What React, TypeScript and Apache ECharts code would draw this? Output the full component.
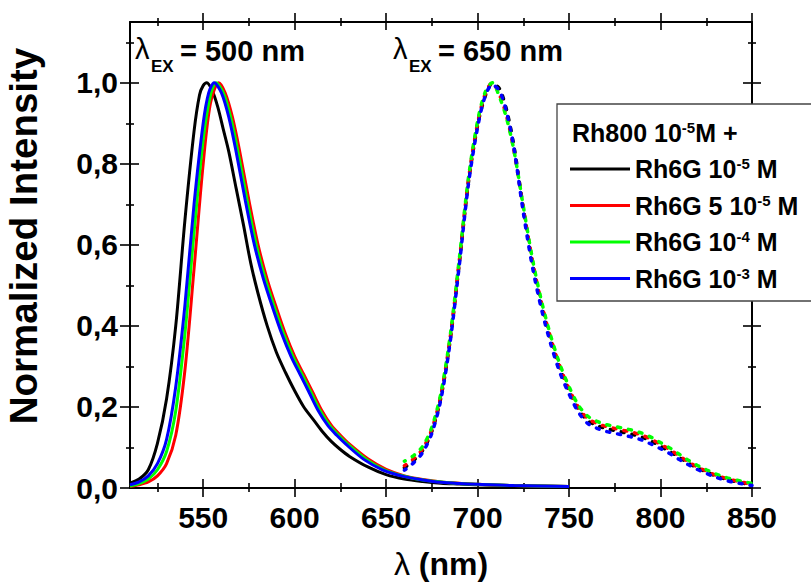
import React, { useEffect, useRef } from "react";
import * as echarts from "echarts";

// ---- Data ----
const SERIES_NAMES = ["Rh6G 10-5 M", "Rh6G 5 10-5 M", "Rh6G 10-4 M", "Rh6G 10-3 M"];
const COLORS = ["#000000", "#ff0000", "#00ff00", "#0000ff"];

// λEX = 500 nm (solid curves)
const BLK_X = [510,515,520,525,530,535,540,545,548,550,552,555,558,561,564,568,572,576,580,585,590,595,600,605,610,615,620,625,630,640,650,660,670,680,690,700,720,750];
const BLK_Y = [0.012,0.022,0.045,0.11,0.22,0.40,0.66,0.88,0.97,0.993,1.0,0.98,0.94,0.885,0.83,0.74,0.65,0.555,0.48,0.40,0.335,0.285,0.24,0.20,0.17,0.14,0.115,0.095,0.078,0.052,0.033,0.022,0.016,0.012,0.01,0.008,0.006,0.004];
const RED_X = [510,515,520,525,530,535,540,545,550,554,558.5,562,566,570,575,580,585,590,595,600,605,610,615,620,625,630,640,650,660,670,680,690,700,720,750];
const RED_Y = [0.004,0.008,0.015,0.03,0.06,0.13,0.29,0.54,0.80,0.95,1.0,0.975,0.915,0.83,0.71,0.60,0.515,0.445,0.38,0.325,0.28,0.235,0.19,0.155,0.13,0.108,0.072,0.046,0.03,0.021,0.015,0.012,0.009,0.006,0.004];
const GRN_X = [510,515,520,525,530,535,540,545,550,554,557,561,565,569,574,579,584,589,594,599,604,609,614,619,624,629,639,649,660,670,680,690,700,720,750];
const GRN_Y = [0.005,0.011,0.022,0.045,0.09,0.19,0.38,0.63,0.86,0.97,1.0,0.975,0.915,0.83,0.71,0.60,0.515,0.445,0.38,0.325,0.28,0.235,0.19,0.155,0.13,0.108,0.071,0.045,0.029,0.02,0.015,0.011,0.009,0.006,0.004];
const BLU_X = [510,515,520,525,530,535,540,545,550,553,556,560,564,568,573,578,583,588,593,598,603,608,613,618,623,628,638,648,660,670,680,690,700,720,750];
const BLU_Y = [0.008,0.015,0.03,0.06,0.12,0.25,0.45,0.70,0.90,0.975,1.0,0.975,0.915,0.83,0.71,0.60,0.515,0.445,0.38,0.325,0.28,0.235,0.19,0.155,0.13,0.108,0.07,0.045,0.028,0.02,0.014,0.011,0.009,0.006,0.004];

// λEX = 650 nm (dashed curves)
const R_X = [660,665,670,675,680,685,690,695,700,704,708,712,716,720,725,730,735,740,745,750,755,760,765,770,775,780,785,790,795,800,805,810,815,820,825,830,835,840,845,850];
const R_BLK = [0.05,0.068,0.093,0.14,0.225,0.365,0.555,0.755,0.895,0.965,0.998,0.985,0.93,0.84,0.69,0.555,0.45,0.365,0.295,0.24,0.195,0.167,0.155,0.147,0.142,0.137,0.132,0.125,0.115,0.103,0.09,0.076,0.062,0.05,0.04,0.03,0.023,0.017,0.012,0.008];
const R_RED = [0.055,0.072,0.097,0.145,0.23,0.37,0.56,0.76,0.90,0.97,1.0,0.97,0.915,0.83,0.69,0.56,0.455,0.37,0.30,0.245,0.20,0.172,0.16,0.152,0.147,0.142,0.137,0.13,0.12,0.108,0.095,0.08,0.065,0.052,0.042,0.032,0.025,0.019,0.014,0.009];
const R_GRN = [0.066,0.08,0.103,0.15,0.235,0.375,0.565,0.765,0.905,0.975,1.0,0.965,0.91,0.83,0.695,0.565,0.46,0.375,0.305,0.25,0.205,0.178,0.165,0.157,0.152,0.147,0.142,0.135,0.125,0.112,0.099,0.084,0.069,0.056,0.045,0.035,0.027,0.021,0.016,0.011];
const R_BLU = [0.044,0.062,0.088,0.135,0.22,0.36,0.55,0.75,0.89,0.965,0.995,0.98,0.925,0.835,0.68,0.545,0.44,0.355,0.285,0.232,0.188,0.16,0.148,0.14,0.135,0.13,0.125,0.118,0.108,0.097,0.085,0.071,0.058,0.046,0.036,0.027,0.02,0.014,0.01,0.006];

// Axis ticks / labels
const X_MIN = 510;
const X_MAX = 850;
const X_MAJOR = [550, 600, 650, 700, 750, 800, 850];
const X_MINOR = [525, 575, 625, 675, 725, 775, 825];
const Y_MIN = 0;
const Y_MAX = 1.15;
const Y_MAJOR = [0, 0.2, 0.4, 0.6, 0.8, 1.0];
const Y_MINOR = [0.1, 0.3, 0.5, 0.7, 0.9, 1.1];

const FONT = '"Liberation Sans", Arial, Helvetica, sans-serif';

const zip = (xs: number[], ys: number[]) => xs.map((x, i) => [x, ys[i]]);

const LEGEND_RICH_TEXT: Record<string, string> = {
  "Rh6G 10-5 M": "{t|Rh6G 10}{s|-5}{t| M}",
  "Rh6G 5 10-5 M": "{t|Rh6G 5 10}{s|-5}{t| M}",
  "Rh6G 10-4 M": "{t|Rh6G 10}{s|-4}{t| M}",
  "Rh6G 10-3 M": "{t|Rh6G 10}{s|-3}{t| M}",
};

const RICH = {
  t: { fontSize: 25, fontWeight: "bold", fontFamily: FONT, color: "#000", lineHeight: 26 },
  s: { fontSize: 15, fontWeight: "bold", fontFamily: FONT, color: "#000", lineHeight: 14, verticalAlign: "top" },
};

function tickAxis(
  kind: "x" | "y",
  position: string,
  values: number[],
  inside: boolean,
  length: number,
  showLine: boolean
): any {
  return {
    type: "value",
    position,
    min: kind === "x" ? X_MIN : Y_MIN,
    max: kind === "x" ? X_MAX : Y_MAX,
    axisLine: { show: showLine, onZero: false, lineStyle: { color: "#000", width: 2 } },
    axisTick: {
      show: true,
      inside,
      length,
      customValues: values,
      lineStyle: { color: "#000", width: 1.6 },
    },
    axisLabel: { show: false },
    splitLine: { show: false },
  };
}

export default function App() {
  const ref = useRef<HTMLDivElement>(null);

  useEffect(() => {
    document.body.style.margin = "0";
    if (!ref.current) return;
    const chart = echarts.init(ref.current, null, { renderer: "svg", width: 811, height: 587 });

    const xMain = tickAxis("x", "bottom", X_MAJOR, true, 9, true);
    xMain.axisLabel = {
      show: true,
      customValues: X_MAJOR,
      fontSize: 30,
      fontWeight: "bold",
      fontFamily: FONT,
      color: "#000",
      margin: 14,
    };
    xMain.name = "{l|λ}{b| (nm)}";
    xMain.nameLocation = "middle";
    xMain.nameGap = 60;
    xMain.nameTextStyle = {
      rich: {
        l: { fontSize: 32, fontFamily: FONT, color: "#000" },
        b: { fontSize: 32, fontWeight: "bold", fontFamily: FONT, color: "#000" },
      },
    };

    const yMain = tickAxis("y", "left", Y_MAJOR, true, 9, true);
    yMain.axisLabel = {
      show: true,
      customValues: Y_MAJOR,
      fontSize: 30,
      fontWeight: "bold",
      fontFamily: FONT,
      color: "#000",
      margin: 12,
      formatter: (v: number) => v.toFixed(1).replace(".", ","),
    };

    const xAxes = [
      xMain,
      tickAxis("x", "bottom", X_MAJOR, false, 9, false),
      tickAxis("x", "bottom", X_MINOR, true, 5, false),
      tickAxis("x", "bottom", X_MINOR, false, 4, false),
      tickAxis("x", "top", X_MAJOR, true, 8, true),
      tickAxis("x", "top", X_MAJOR, false, 9, false),
      tickAxis("x", "top", X_MINOR, true, 4, false),
      tickAxis("x", "top", X_MINOR, false, 4, false),
    ];
    const yAxes = [
      yMain,
      tickAxis("y", "left", Y_MAJOR, false, 10, false),
      tickAxis("y", "left", Y_MINOR, true, 4, false),
      tickAxis("y", "left", Y_MINOR, false, 4, false),
      tickAxis("y", "right", Y_MAJOR, true, 9, true),
      tickAxis("y", "right", Y_MAJOR, false, 9, false),
      tickAxis("y", "right", Y_MINOR, true, 4, false),
      tickAxis("y", "right", Y_MINOR, false, 4, false),
    ];

    const leftData = [zip(BLK_X, BLK_Y), zip(RED_X, RED_Y), zip(GRN_X, GRN_Y), zip(BLU_X, BLU_Y)];
    const rightData = [zip(R_X, R_BLK), zip(R_X, R_RED), zip(R_X, R_GRN), zip(R_X, R_BLU)];
    const dashOffsets = [0, 1, 2, 0.5];

    const series: any[] = [];
    leftData.forEach((d, i) => {
      series.push({
        name: SERIES_NAMES[i],
        type: "line",
        data: d,
        xAxisIndex: 0,
        yAxisIndex: 0,
        showSymbol: false,
        smooth: 0.3,
        color: COLORS[i],
        lineStyle: { color: COLORS[i], width: 3 },
        z: 2 + i,
      });
    });
    rightData.forEach((d, i) => {
      series.push({
        name: SERIES_NAMES[i] + " (650)",
        type: "line",
        data: d,
        xAxisIndex: 0,
        yAxisIndex: 0,
        showSymbol: false,
        smooth: 0.3,
        color: COLORS[i],
        lineStyle: {
          color: COLORS[i],
          width: 3.5,
          type: [3, 8],
          dashOffset: dashOffsets[i],
          cap: "round",
        },
        z: 2 + i,
      });
    });

    const ann = (x: number, val: string) => [
      {
        type: "text",
        x: x,
        y: 49,
        style: { text: "λ", fontSize: 29, fontFamily: FONT, fill: "#000", verticalAlign: "middle" },
      },
      {
        type: "text",
        x: x + 16,
        y: 66,
        style: { text: "EX", fontSize: 17, fontWeight: "bold", fontFamily: FONT, fill: "#000", verticalAlign: "middle" },
      },
      {
        type: "text",
        x: x + 45,
        y: 51,
        style: { text: "= " + val, fontSize: 29, fontWeight: "bold", fontFamily: FONT, fill: "#000", verticalAlign: "middle" },
      },
    ];

    const option: any = {
      animation: false,
      backgroundColor: "#fff",
      grid: { left: 130, right: 59, top: 22, bottom: 99, containLabel: false, outerBoundsMode: "none" },
      xAxis: xAxes,
      yAxis: yAxes,
      legend: {
        data: SERIES_NAMES,
        orient: "vertical",
        left: 557,
        top: 104,
        icon: "rect",
        itemWidth: 60,
        itemHeight: 3,
        itemGap: 11,
        padding: [52, 70, 10, 13],
        borderColor: "#444",
        borderWidth: 1.3,
        backgroundColor: "#fff",
        selectedMode: false,
        formatter: (name: string) => LEGEND_RICH_TEXT[name] || name,
        textStyle: { rich: RICH, color: "#000" },
      },
      graphic: [
        ...ann(135, "500 nm"),
        ...ann(393, "650 nm"),
        {
          type: "text",
          x: 23,
          y: 236,
          rotation: Math.PI / 2,
          style: {
            text: "Normalized Intensity",
            fontSize: 38.5,
            fontWeight: "bold",
            fontFamily: FONT,
            fill: "#000",
            align: "center",
            verticalAlign: "middle",
          },
        },
        {
          type: "text",
          x: 572,
          y: 133,
          z: 100,
          style: {
            text: "{t|Rh800 10}{s|-5}{t|M +}",
            rich: RICH,
            verticalAlign: "middle",
          },
        },
      ],
      series,
    };

    chart.setOption(option);
    return () => chart.dispose();
  }, []);

  return <div ref={ref} style={{ width: 811, height: 587 }} />;
}
